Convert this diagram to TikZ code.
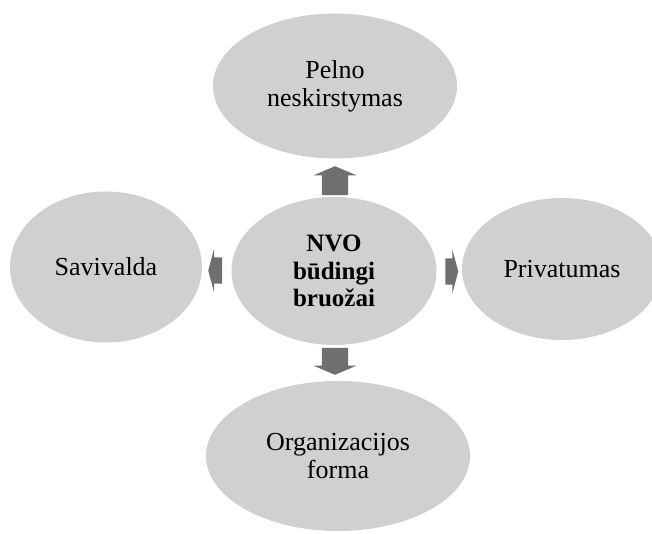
\documentclass[tikz,border=0pt]{standalone}
\usepackage{fontspec}
\setmainfont{Liberation Serif}
\usetikzlibrary{shapes.geometric,shapes.arrows}
\definecolor{bubblegray}{RGB}{208,207,209}
\definecolor{arrowgray}{RGB}{112,110,111}
\begin{document}
\begin{tikzpicture}[x=1pt,y=1pt,
    bubble/.style={ellipse, fill=bubblegray, inner sep=0pt, align=center, font=\fontsize{26}{28}\selectfont},
    blockarrow/.style={single arrow, fill=arrowgray, inner xsep=0pt, inner ysep=13pt, single arrow head extend=8.5pt}]
  \useasboundingbox (0,0) rectangle (652,534);
  \clip (0,0) rectangle (652,534);
  % centre
  \node[bubble, minimum width=205pt, minimum height=148pt, font=\fontsize{25}{27.5}\selectfont\bfseries] (nvo) at (334,263) {NVO\\būdingi\\bruožai};
  % features around the centre
  \foreach \N/\X/\Y/\W/\H/\T in {pelno/335/448/244/145/{Pelno\\neskirstymas},
      savi/106/267/192/151/{Savivalda},
      priv/562/265/200/142/{Privatumas},
      forma/338/78/264/150/{Organizacijos\\forma}}
    {
    \node[bubble, minimum width=\W pt, minimum height=\H pt] (\N) at (\X,\Y) {\T};
    }
  % arrows
  \node[blockarrow, rotate=90, minimum height=29pt, single arrow tip angle=134] (aup) at (335,350.5) {};
  \node[blockarrow, rotate=270, minimum height=27pt, single arrow tip angle=134] (adown) at (335,175.5) {};
  \node[blockarrow, rotate=180, minimum height=14pt, single arrow tip angle=150] (aleft) at (217,263.5) {};
  \node[blockarrow, minimum height=13pt, single arrow tip angle=150] (aright) at (450,262.5) {};
\end{tikzpicture}
\end{document}
